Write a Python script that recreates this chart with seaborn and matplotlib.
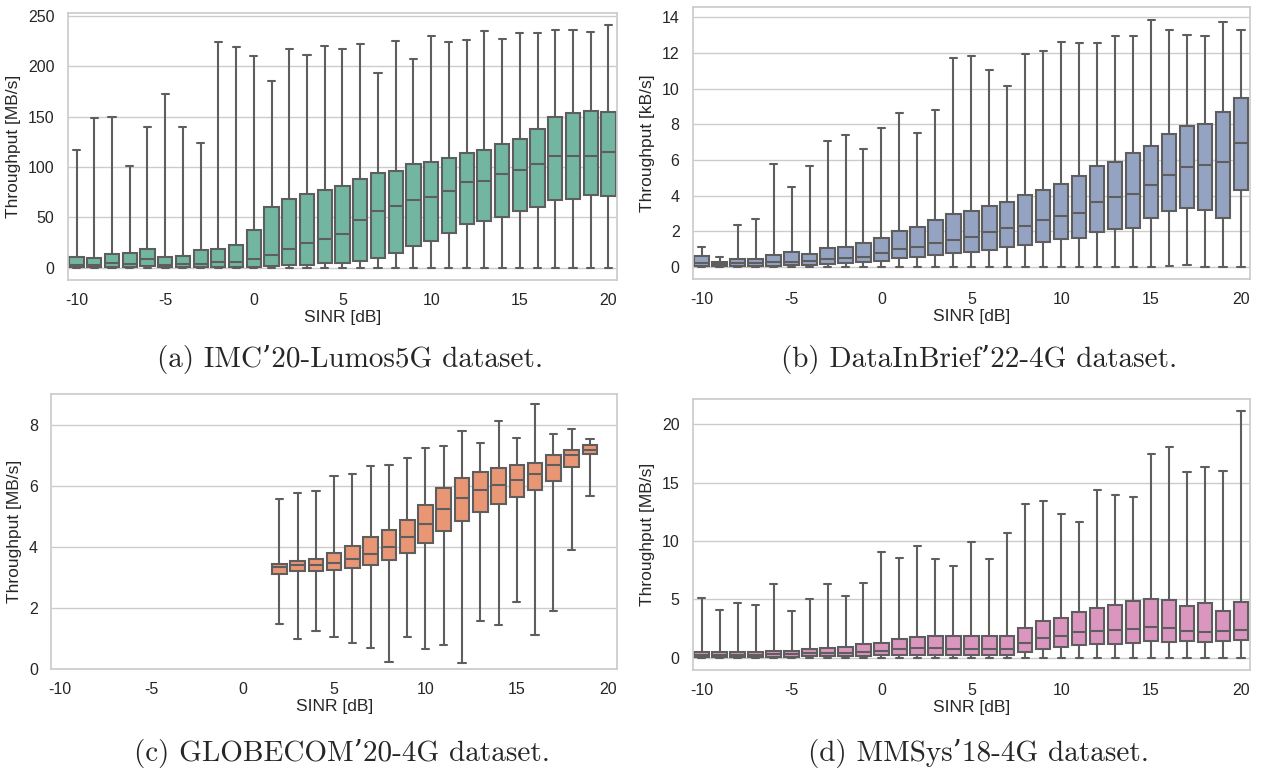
import matplotlib
matplotlib.use("Agg")
import matplotlib.pyplot as plt
import seaborn as sns
import numpy as np
import pandas as pd

sinr = list(range(-10, 21))
sinr_labels = [str(s) for s in sinr]

# (a) IMC'20-Lumos5G, MB/s  -- per SINR bin: min, q1, median, q3, max
a_min = [0] * 31
a_q1 = [1, 0.7, 1, 1, 2, 1, 1, 1, 0.7, 1, 1, 2, 2.6, 3.3, 5.3, 5.3, 6.9, 10.2, 15.2, 21.7,
        26.7, 34.6, 43.5, 46.1, 50.4, 56.7, 60.6, 66.9, 67.9, 72.1, 71.5]
a_med = [3.3, 3.3, 5.3, 4.3, 8.9, 3.3, 4.3, 4.3, 5.6, 6.3, 8.6, 12.5, 19.1, 24.4, 28.7, 33.9,
         47.4, 56, 61.3, 67.5, 70.5, 76.4, 85, 86, 92.6, 97.2, 102.8, 110.7, 111.3, 110.7, 115]
a_q3 = [10.9, 9.9, 13.8, 14.8, 19.1, 11.2, 11.9, 17.8, 18.8, 22.7, 37.2, 60, 68.2, 73.1, 77.1,
        80.7, 88.6, 93.9, 96.2, 103.4, 105.1, 109, 114, 117.3, 123.2, 127.5, 137.4, 149.5,
        153.5, 155.5, 154.8]
a_max = [116.6, 148.5, 150, 100.8, 139.7, 172.3, 139.7, 123.8, 223.6, 218.7, 209.8, 184.8,
         217.4, 211.5, 220.4, 217.4, 222.3, 193.7, 225, 207.5, 230.2, 223.6, 226.3, 234.8,
         227.3, 232.5, 232.5, 236.2, 236.2, 233.9, 240.4]

# (b) DataInBrief'22-4G, kB/s
b_min = [0] * 26 + [0.07, 0.11, 0, 0, 0]
b_q1 = [0.06, 0.06, 0.06, 0.06, 0.07, 0.09, 0.11, 0.17, 0.21, 0.26, 0.36, 0.51, 0.56, 0.67,
        0.79, 0.84, 0.97, 1.12, 1.25, 1.4, 1.57, 1.65, 1.95, 2.11, 2.21, 2.73, 3.13, 3.28,
        3.22, 2.77, 4.3]
b_med = [0.22, 0.15, 0.21, 0.21, 0.26, 0.3, 0.36, 0.47, 0.49, 0.58, 0.77, 0.99, 1.14, 1.35,
         1.53, 1.68, 1.97, 2.17, 2.32, 2.64, 2.83, 3.05, 3.67, 3.93, 4.1, 4.59, 5.18, 5.58,
         5.71, 5.86, 6.94]
b_q3 = [0.64, 0.26, 0.47, 0.47, 0.66, 0.82, 0.73, 1.07, 1.1, 1.33, 1.65, 2.04, 2.25, 2.62,
        2.98, 3.11, 3.41, 3.63, 4.04, 4.3, 4.64, 5.11, 5.65, 5.9, 6.4, 6.81, 7.43, 7.9, 8.01,
        8.67, 9.49]
b_max = [1.12, 0.54, 2.36, 2.68, 5.76, 4.47, 5.65, 7.07, 7.39, 6.59, 7.79, 8.65, 7.52, 8.78,
         11.7, 11.83, 11.02, 10.14, 11.92, 12.11, 12.6, 12.58, 12.54, 12.97, 12.97, 13.87,
         13.31, 12.99, 12.95, 13.72, 13.31]

# (c) GLOBECOM'20-4G, MB/s -- only SINR 2..19 present
c_sinr = list(range(2, 20))
c_min = [1.48, 0.98, 1.26, 1.06, 0.87, 0.69, 0.25, 1.04, 0.66, 0.81, 0.2, 1.59, 1.45, 2.2,
         1.13, 1.9, 3.9, 5.68]
c_q1 = [3.13, 3.22, 3.21, 3.25, 3.32, 3.42, 3.56, 3.79, 4.14, 4.52, 4.85, 5.14, 5.4, 5.64,
        5.86, 6.16, 6.62, 7.03]
c_med = [3.33, 3.42, 3.42, 3.47, 3.61, 3.77, 4.01, 4.31, 4.76, 5.25, 5.59, 5.87, 6.04, 6.2,
         6.38, 6.67, 6.99, 7.18]
c_q3 = [3.44, 3.53, 3.59, 3.81, 4.02, 4.32, 4.56, 4.88, 5.38, 5.92, 6.24, 6.45, 6.57, 6.67,
        6.76, 7.0, 7.17, 7.34]
c_max = [5.57, 5.77, 5.84, 6.32, 6.4, 6.63, 6.68, 6.91, 7.25, 7.3, 7.79, 7.41, 8.12, 7.56,
         8.66, 7.68, 7.84, 7.53]

# (d) MMSys'18-4G, MB/s
d_min = [0] * 31
d_q1 = [0.09, 0.09, 0.09, 0.09, 0.09, 0.09, 0.11, 0.11, 0.14, 0.17, 0.23, 0.26, 0.26, 0.23,
        0.2, 0.2, 0.26, 0.26, 0.49, 0.77, 0.89, 1.09, 1.17, 1.14, 1.29, 1.4, 1.37, 1.4, 1.31,
        1.4, 1.54]
d_med = [0.23, 0.26, 0.26, 0.26, 0.31, 0.31, 0.37, 0.37, 0.43, 0.51, 0.6, 0.71, 0.8, 0.83,
         0.71, 0.77, 0.77, 0.77, 1.29, 1.69, 1.83, 2.17, 2.29, 2.37, 2.49, 2.63, 2.51, 2.31,
         2.17, 2.26, 2.34]
d_q3 = [0.49, 0.51, 0.51, 0.51, 0.6, 0.6, 0.77, 0.8, 0.94, 1.14, 1.29, 1.57, 1.74, 1.89,
        1.86, 1.86, 1.86, 1.83, 2.57, 3.17, 3.4, 3.94, 4.29, 4.51, 4.86, 5.03, 4.97, 4.43,
        4.71, 4.03, 4.8]
d_max = [5.11, 4.09, 4.69, 4.51, 6.34, 3.97, 5.06, 6.29, 5.31, 6.43, 9.09, 8.57, 9.57, 8.49,
         7.83, 9.91, 8.46, 10.71, 13.2, 13.46, 12.31, 11.63, 14.37, 13.97, 13.77, 17.46,
         18.06, 15.94, 16.34, 16.03, 21.14]


def to_frame(xs, mins, q1s, meds, q3s, maxs):
    # five points per bin, so the quartiles land exactly on the read values
    rows = []
    for x, lo, q1, m, q3, hi in zip(xs, mins, q1s, meds, q3s, maxs):
        for v in (lo, q1, m, q3, hi):
            rows.append((str(x), v))
    return pd.DataFrame(rows, columns=["SINR", "Throughput"])


sns.set_theme(style="whitegrid")
plt.rcParams["font.family"] = ["Liberation Sans", "DejaVu Sans"]

pal = sns.color_palette("Set2")
panels = [
    (to_frame(sinr, a_min, a_q1, a_med, a_q3, a_max), pal[0], "Throughput [MB/s]",
     "(a) IMC\u201920-Lumos5G dataset.", [67.7, 13.3, 617.3, 280.0], None),
    (to_frame(sinr, b_min, b_q1, b_med, b_q3, b_max), pal[2], "Throughput [kB/s]",
     "(b) DataInBrief\u201922-4G dataset.", [692.7, 7.3, 1250, 279.3], None),
    (to_frame(c_sinr, c_min, c_q1, c_med, c_q3, c_max), pal[1], "Throughput [MB/s]",
     "(c) GLOBECOM\u201920-4G dataset.", [51, 394, 617.3, 669.3], (0, 9)),
    (to_frame(sinr, d_min, d_q1, d_med, d_q3, d_max), pal[3], "Throughput [MB/s]",
     "(d) MMSys\u201918-4G dataset.", [692.7, 398.7, 1250, 670], None),
]
caption_y = [360, 360, 754, 754]

W, H = 1261, 770
fig = plt.figure(figsize=(W / 100, H / 100), dpi=100)

for i, (df, col, ylab, cap, box, ylim) in enumerate(panels):
    l, t, r, b = box
    ax = fig.add_axes([l / W, 1 - b / H, (r - l) / W, (b - t) / H])
    sns.boxplot(data=df, x="SINR", y="Throughput", order=sinr_labels, color=col,
                whis=(0, 100), linewidth=1.5, linecolor="#5e5e5e", ax=ax)
    ax.set_xticks(range(0, 31, 5))
    ax.set_xticklabels(sinr_labels[::5])
    ax.tick_params(labelsize=11.5, colors="#262626")
    ax.set_xlabel("SINR [dB]", fontsize=12.5, labelpad=1)
    ax.set_ylabel(ylab, fontsize=12.5, labelpad=5)
    if ylim is not None:
        ax.set_ylim(*ylim)
        ax.set_yticks([0, 2, 4, 6, 8])
    cx = (l + r) / 2 / W + 0.006
    fig.text(cx, 1 - caption_y[i] / H, cap, ha="center", va="center",
             fontsize=21, family=["cmr10", "DejaVu Serif"])

fig.savefig("out.png", dpi=100)
